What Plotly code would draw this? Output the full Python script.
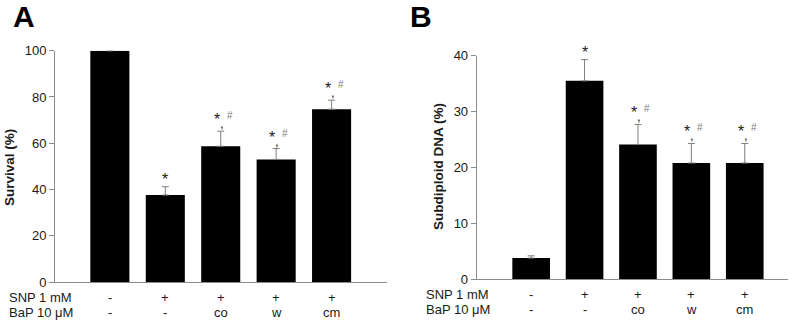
import plotly.graph_objects as go

categories = [0, 1, 2, 3, 4]
snp_labels = ["-", "+", "+", "+", "+"]
bap_labels = ["-", "-", "co", "w", "cm"]

survival = [100, 37.6, 58.7, 53.0, 74.7]
survival_err = [0, 3.6, 6.5, 4.7, 3.9]
survival_sig = ["", "*", "*#", "*#", "*#"]

subdiploid = [3.8, 35.5, 24.1, 20.8, 20.8]
subdiploid_err = [0.4, 3.8, 3.6, 3.5, 3.5]
subdiploid_sig = ["", "*", "*#", "*#", "*#"]

W, H = 800, 323
FONT = "Liberation Sans, Arial, sans-serif"
AX = "#8c8c8c"
TXT = "#1a1a1a"

fig = go.Figure()

def add_bars(vals, errs, xa, ya):
    fig.add_trace(go.Bar(
        x=categories, y=vals, xaxis=xa, yaxis=ya,
        width=0.705, marker=dict(color="black", line=dict(width=0)),
        error_y=dict(type="data", symmetric=False, array=errs,
                     arrayminus=[0] * len(errs), color="#7f7f7f",
                     thickness=1, width=3.5),
        showlegend=False, hoverinfo="skip",
    ))

add_bars(survival, survival_err, "x", "y")
add_bars(subdiploid, subdiploid_err, "x2", "y2")

dA = [55 / W, 387 / W]
dAy = [1 - 282 / H, 1 - 50.7 / H]
dB = [476.7 / W, 788 / W]
dBy = [1 - 279.3 / H, 1 - 55.7 / H]

axis_common = dict(showgrid=False, zeroline=False, showline=True,
                   linecolor=AX, linewidth=1, automargin=False)

fig.update_layout(
    width=W, height=H,
    margin=dict(l=0, r=0, t=0, b=0),
    paper_bgcolor="white", plot_bgcolor="white",
    font=dict(family=FONT, color=TXT, size=13),
    xaxis=dict(domain=dA, range=[-0.99, 5.0], showticklabels=False,
               ticks="", anchor="y", **axis_common),
    yaxis=dict(domain=dAy, range=[0, 100], dtick=20, ticks="outside",
               ticklen=5, tickcolor=AX, anchor="x",
               tickfont=dict(size=13, family=FONT, color=TXT),
               **axis_common),
    xaxis2=dict(domain=dB, range=[-1.02, 4.81], showticklabels=False,
                ticks="", anchor="y2", **axis_common),
    yaxis2=dict(domain=dBy, range=[0, 40], dtick=10, ticks="outside",
                ticklen=5, tickcolor=AX, anchor="x2",
                tickfont=dict(size=13, family=FONT, color=TXT),
                **axis_common),
)

ann = []
# Panel letters
ann.append(dict(text="<b>A</b>", x=11 / W, y=1 + 2 / H, xref="paper", yref="paper",
                xanchor="left", yanchor="top", showarrow=False,
                font=dict(size=30, family=FONT, color="black")))
ann.append(dict(text="<b>B</b>", x=408 / W, y=1 + 2 / H, xref="paper", yref="paper",
                xanchor="left", yanchor="top", showarrow=False,
                font=dict(size=30, family=FONT, color="black")))

# Axis titles
ann.append(dict(text="<b>Survival (%)</b>", x=9 / W, y=1 - 168 / H, xref="paper", yref="paper",
                xanchor="center", yanchor="middle", textangle=-90, showarrow=False,
                font=dict(size=13.5, family=FONT, color=TXT)))
ann.append(dict(text="<b>Subdiploid DNA (%)</b>", x=438 / W, y=1 - 167 / H, xref="paper",
                yref="paper", xanchor="center", yanchor="middle", textangle=-90,
                showarrow=False, font=dict(size=13.5, family=FONT, color=TXT)))

# Row labels
def rows(xpx, y1, y2, xa, snp=snp_labels, bap=bap_labels):
    ann.append(dict(text="SNP 1 mM", x=xpx / W, y=1 - y1 / H, xref="paper", yref="paper",
                    xanchor="left", yanchor="middle", showarrow=False, font=dict(size=13)))
    ann.append(dict(text="BaP 10 μM", x=xpx / W, y=1 - y2 / H, xref="paper", yref="paper",
                    xanchor="left", yanchor="middle", showarrow=False, font=dict(size=13)))
    for c, s, b in zip(categories, snp, bap):
        ann.append(dict(text=s, x=c, y=1 - y1 / H, xref=xa, yref="paper",
                        xanchor="center", yanchor="middle", showarrow=False, font=dict(size=13)))
        ann.append(dict(text=b, x=c, y=1 - y2 / H, xref=xa, yref="paper",
                        xanchor="center", yanchor="middle", showarrow=False, font=dict(size=13)))

rows(7, 297, 312, "x")
rows(424, 294, 309, "x2")

# Significance marks
def sig(vals, errs, marks, xa, ya):
    for c, v, e, m in zip(categories, vals, errs, marks):
        top = v + e
        if m == "*":
            ann.append(dict(text="*", x=c, y=top, xref=xa, yref=ya, xanchor="center",
                            yanchor="bottom", yshift=-3, showarrow=False,
                            font=dict(size=16, color="#222")))
        elif m == "*#":
            ann.append(dict(text="*", x=c, y=top, xref=xa, yref=ya, xanchor="center",
                            yanchor="bottom", xshift=-4, yshift=1, showarrow=False,
                            font=dict(size=16, color="#222")))
            ann.append(dict(text=",", x=c, y=top, xref=xa, yref=ya, xanchor="center",
                            yanchor="bottom", xshift=1, yshift=-2, showarrow=False,
                            font=dict(size=13, color="#222")))
            ann.append(dict(text="#", x=c, y=top, xref=xa, yref=ya, xanchor="center",
                            yanchor="bottom", xshift=9, yshift=8, showarrow=False,
                            font=dict(size=10, color="#808080")))

sig(survival, survival_err, survival_sig, "x", "y")
sig(subdiploid, subdiploid_err, subdiploid_sig, "x2", "y2")

fig.update_layout(annotations=ann)
fig.write_html(
    "out.html",
    config={"displayModeBar": False},
    post_script="document.body.style.margin='0';document.body.style.overflow='hidden';",
)
